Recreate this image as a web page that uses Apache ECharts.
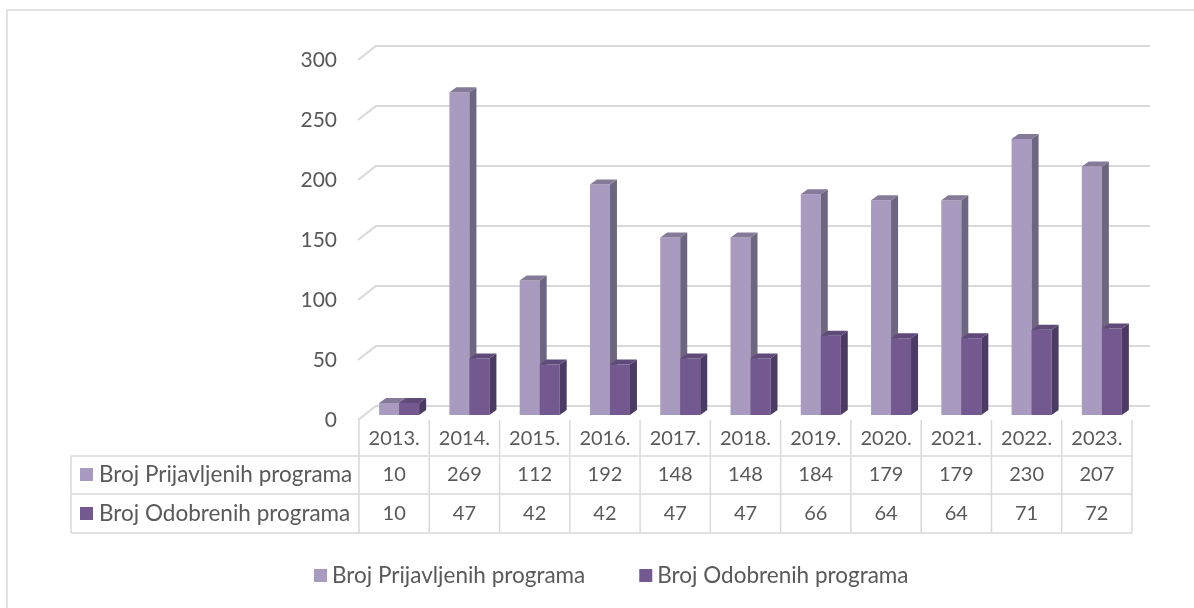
<!DOCTYPE html>
<html>
<head>
<meta charset="utf-8">
<script src="https://cdn.jsdelivr.net/npm/echarts@6/dist/echarts.min.js"></script>
<style>
  html, body { margin: 0; padding: 0; background: #fff; }
  #chart { width: 1194px; height: 608px; }
</style>
</head>
<body>
<div id="chart"></div>
<script>
var categories = ['2013.', '2014.', '2015.', '2016.', '2017.', '2018.', '2019.', '2020.', '2021.', '2022.', '2023.'];
var prijavljeni = [10, 269, 112, 192, 148, 148, 184, 179, 179, 230, 207];
var odobreni = [10, 47, 42, 42, 47, 47, 66, 64, 64, 71, 72];
var seriesNames = ['Broj Prijavljenih programa', 'Broj Odobrenih programa'];
var yTicks = [0, 50, 100, 150, 200, 250, 300];

var FONT = 'Lato, "Open Sans", sans-serif';
var FS = 21;
var TXT = '#595959';
var LINE = '#D9D9D9';
var lightCols = ['#A89BBF', '#6E6680', '#857A98'];
var darkCols = ['#73598F', '#4B3A63', '#5F4A7A'];

// table rows (pixel rows of the data table under the plot)
var rowTop = 420, row1 = 456, row2 = 494, rowEnd = 533;

var myChart = echarts.init(document.getElementById('chart'));

function barRender(k, colors) {
    return function (params, api) {
        var p = api.coord([api.value(0), api.value(1)]);
        var base = api.coord([api.value(0), 0])[1];
        var w = 20, dx = 7, dy = 5;
        var x0 = p[0] - 15 + k * w;
        var yt = p[1];
        return {
            type: 'group',
            children: [
                { type: 'rect', shape: { x: x0, y: yt, width: w, height: base - yt }, style: { fill: colors[0] } },
                { type: 'polygon', shape: { points: [[x0 + w, yt], [x0 + w + dx, yt - dy], [x0 + w + dx, base - dy], [x0 + w, base]] }, style: { fill: colors[1] } },
                { type: 'polygon', shape: { points: [[x0, yt], [x0 + dx, yt - dy], [x0 + w + dx, yt - dy], [x0 + w, yt]] }, style: { fill: colors[2] } }
            ]
        };
    };
}

// back-wall gridlines with a slanted side wall, plus the value labels on the front edge
function gridRender(params, api) {
    var v = api.value(1);
    var y = api.coord([0, v])[1];
    var cs = params.coordSys;
    return {
        type: 'group',
        children: [
            {
                type: 'polyline',
                shape: { points: [[cs.x - 1, y + 5], [cs.x + 17, y - 9], [cs.x + cs.width + 18, y - 9]] },
                style: { stroke: LINE, lineWidth: 2, fill: null }
            },
            {
                type: 'text',
                style: { text: String(v), x: cs.x - 22, y: y + 5, align: 'right', verticalAlign: 'middle', fill: TXT, font: FS + 'px ' + FONT }
            }
        ]
    };
}

function tableRender(params, api) {
    var i = api.value(0);
    var xc = api.coord([i, 0])[0];
    var cw = api.size([1, 0])[0];
    var xl = xc - cw / 2, xr = xc + cw / 2;
    var ls = { stroke: LINE, lineWidth: 1.5 };
    var children = [
        { type: 'line', shape: { x1: xl, y1: rowTop, x2: xl, y2: rowEnd }, style: ls },
        { type: 'line', shape: { x1: xl, y1: row1, x2: xr, y2: row1 }, style: ls },
        { type: 'line', shape: { x1: xl, y1: row2, x2: xr, y2: row2 }, style: ls },
        { type: 'line', shape: { x1: xl, y1: rowEnd, x2: xr, y2: rowEnd }, style: ls }
    ];
    if (i === categories.length - 1) {
        children.push({ type: 'line', shape: { x1: xr, y1: rowTop, x2: xr, y2: rowEnd }, style: ls });
    }
    var cells = [[categories[i], (rowTop + row1) / 2 + 1], [prijavljeni[i], (row1 + row2) / 2], [odobreni[i], (row2 + rowEnd) / 2]];
    cells.forEach(function (c) {
        children.push({
            type: 'text',
            style: { text: String(c[0]), x: xc, y: c[1], align: 'center', verticalAlign: 'middle', fill: TXT, font: '20px ' + FONT }
        });
    });
    return { type: 'group', children: children };
}

var graphics = [
    { type: 'rect', shape: { x: 7, y: 10, width: 1220, height: 640 }, style: { fill: null, stroke: LINE, lineWidth: 1.5 }, silent: true },
    { type: 'line', shape: { x1: 71, y1: row1, x2: 360, y2: row1 }, style: { stroke: LINE, lineWidth: 1.5 } },
    { type: 'line', shape: { x1: 71, y1: row2, x2: 360, y2: row2 }, style: { stroke: LINE, lineWidth: 1.5 } },
    { type: 'line', shape: { x1: 71, y1: rowEnd, x2: 360, y2: rowEnd }, style: { stroke: LINE, lineWidth: 1.5 } },
    { type: 'line', shape: { x1: 71, y1: row1, x2: 71, y2: rowEnd }, style: { stroke: LINE, lineWidth: 1.5 } },
    { type: 'rect', shape: { x: 80, y: 468, width: 13, height: 13 }, style: { fill: lightCols[0] } },
    { type: 'rect', shape: { x: 80, y: 507, width: 13, height: 13 }, style: { fill: darkCols[0] } },
    { type: 'text', style: { text: seriesNames[0], x: 99, y: (row1 + row2) / 2, verticalAlign: 'middle', fill: TXT, font: '22.5px ' + FONT } },
    { type: 'text', style: { text: seriesNames[1], x: 99, y: (row2 + rowEnd) / 2, verticalAlign: 'middle', fill: TXT, font: '22.5px ' + FONT } }
];

var option = {
    animation: false,
    backgroundColor: '#fff',
    grid: { left: 359, right: 62, top: 55, height: 360 },
    legend: {
        data: seriesNames,
        left: 309,
        top: 559,
        icon: 'rect',
        itemWidth: 13,
        itemHeight: 13,
        itemGap: 54,
        textStyle: { color: TXT, fontSize: 22.5, fontFamily: FONT }
    },
    xAxis: {
        type: 'category',
        data: categories,
        axisLine: { show: false },
        axisTick: { show: false },
        axisLabel: { show: false }
    },
    yAxis: {
        type: 'value',
        min: 0,
        max: 300,
        interval: 50,
        splitLine: { show: false },
        axisLine: { show: false },
        axisLabel: { show: false }
    },
    graphic: graphics,
    series: [
        {
            type: 'custom', name: 'grid3d', silent: true, z: 1, clip: false,
            data: yTicks.map(function (v) { return [0, v]; }),
            renderItem: gridRender
        },
        {
            type: 'custom', name: 'table', silent: true, z: 1, clip: false,
            data: categories.map(function (c, i) { return [i, 0]; }),
            renderItem: tableRender
        },
        {
            type: 'custom', name: seriesNames[0], z: 3,
            itemStyle: { color: lightCols[0] },
            data: prijavljeni.map(function (v, i) { return [i, v]; }),
            renderItem: barRender(0, lightCols)
        },
        {
            type: 'custom', name: seriesNames[1], z: 4,
            itemStyle: { color: darkCols[0] },
            data: odobreni.map(function (v, i) { return [i, v]; }),
            renderItem: barRender(1, darkCols)
        }
    ]
};
myChart.setOption(option);
</script>
</body>
</html>
